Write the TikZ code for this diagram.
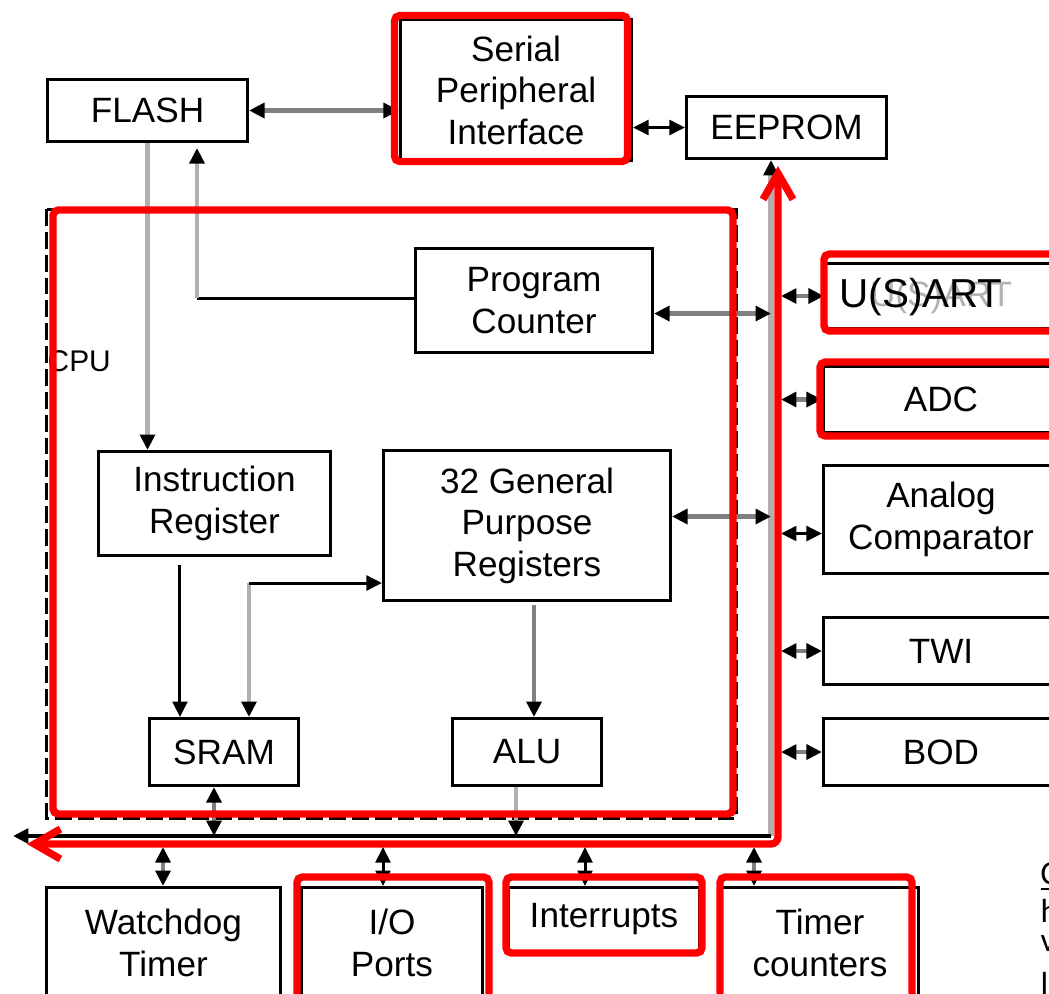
\documentclass[tikz,border=0pt]{standalone}
\usepackage{fontspec}
\setmainfont{Liberation Sans}
\newfontfamily\notefont{Carlito}
\usetikzlibrary{arrows.meta}
\definecolor{busgray}{HTML}{B0B0B0}
\definecolor{linegray}{HTML}{808080}
\definecolor{hlred}{HTML}{FF0000}
\tikzset{
  blk/.style={draw,line width=0.85pt,align=center,inner sep=0pt,font=\fontsize{10}{11.8}\selectfont},
  conn/.style={line width=1.2pt,linegray,>={Triangle[length=4.4pt,width=4.2pt,color=black]}},
  lconn/.style={conn,busgray},
  kconn/.style={conn,black,line width=0.85pt},
  redbox/.style={draw=hlred,line width=2.1pt,rounded corners=1.5pt},
  redarrow/.style={hlred,line width=2.1pt,line cap=round,line join=round,rounded corners=2pt},
}
\begin{document}
\begin{tikzpicture}[x=0.01cm,y=-0.01cm]
\useasboundingbox (0,0) rectangle (1049,993);
\clip (0,0) rectangle (1049,993);
% memories and spi
\node[blk,minimum width=2cm,minimum height=0.62cm] (flash) at (147.5,110.5) {FLASH};
\node[blk,minimum width=2.31cm,minimum height=1.41cm] (spi) at (516,90) {Serial\\Peripheral\\Interface};
\node[blk,minimum width=2cm,minimum height=0.62cm] (eeprom) at (786.5,127.5) {EEPROM};
% cpu core
\draw[line width=0.85pt,dash pattern=on 4.8pt off 1.7pt] (46.5,209) rectangle (736,818);
\node[font=\fontsize{8.5}{10}\selectfont,anchor=west,inner sep=0pt] (cpu) at (47,361) {CPU};
\node[blk,minimum width=2.37cm,minimum height=1.04cm] (pc) at (534,300.5) {Program\\Counter};
\node[blk,minimum width=2.32cm,minimum height=1.04cm] (ir) at (214.5,503.5) {Instruction\\Register};
\node[blk,minimum width=2.87cm,minimum height=1.5cm] (gpr) at (527,525.5) {32 General\\Purpose\\Registers};
\node[blk,minimum width=1.49cm,minimum height=0.67cm] (sram) at (224,752) {SRAM};
\node[blk,minimum width=1.49cm,minimum height=0.67cm] (alu) at (527,752) {ALU};
% peripherals on the right
\node[blk,minimum width=2.33cm,minimum height=0.65cm] (usart) at (942,296) {};
\node[font=\fontsize{10}{12}\selectfont,text=gray!60] at (941,297) {U(S)ART};
\node[font=\fontsize{11.5}{13}\selectfont] (usartlbl) at (921,297) {U(S)ART};
\node[blk,minimum width=2.35cm,minimum height=0.66cm] (adc) at (941,399.5) {ADC};
\node[blk,minimum width=2.35cm,minimum height=1.08cm] (acomp) at (941,519.5) {Analog\\Comparator};
\node[blk,minimum width=2.35cm,minimum height=0.67cm] (twi) at (941,651) {TWI};
\node[blk,minimum width=2.35cm,minimum height=0.67cm] (bod) at (941,752) {BOD};
% peripherals below
\node[blk,minimum width=2.34cm,minimum height=1.11cm] (wdt) at (163.5,943) {Watchdog\\Timer};
\node[blk,minimum width=1.81cm,minimum height=1.11cm] (io) at (392,943) {I/O\\Ports};
\node[blk,minimum width=1.91cm,minimum height=0.64cm] (irq) at (604,919.5) {\raisebox{-2pt}{Interrupts}};
\node[blk,minimum width=1.97cm,minimum height=1.11cm] (tmr) at (820,943) {Timer\\counters};
% bus
\coordinate (busL) at (13,836);
\coordinate (busR) at (771,836);
\coordinate (tapR) at (781,836);
\coordinate (pcbend) at (197,298);
\coordinate (sgbend) at (249,583);
\coordinate (tapwdt) at (163,847);
\coordinate (tapio) at (383,847);
\coordinate (tapirq) at (585,847);
\coordinate (taptmr) at (754,847);
\draw[lconn,line width=1.7pt,->] (busR) -- (busR |- eeprom.south);
\draw[kconn,line width=1.1pt,->] (busR) -- (busL);
% connectors
\draw[conn,line width=1.4pt,<->] (flash.east) -- (flash.east -| spi.west);
\draw[kconn,<->] (spi.east |- eeprom.west) -- (eeprom.west);
\draw[lconn,->] (flash.south) -- (flash.south |- ir.north);
\draw[kconn] (pc.west |- pcbend) -- (pcbend);
\draw[lconn,->,shorten >=0.05cm] (pcbend) -- (pcbend |- flash.south);
\draw[conn,<->] ([yshift=-0.13cm]pc.east) -- ([yshift=-0.13cm]pc.east -| busR);
\draw[conn,<->] ([yshift=0.09cm]gpr.east) -- ([yshift=0.09cm]gpr.east -| busR);
\draw[kconn,->] ([xshift=-0.345cm,yshift=-0.08cm]ir.south) -- ([xshift=-0.345cm]ir.south |- sram.north);
\draw[lconn,->] (sgbend) -- (sgbend |- sram.north);
\draw[kconn,->] (sgbend) -- (sgbend -| gpr.west);
\draw[conn,->] ([xshift=0.07cm,yshift=-0.03cm]gpr.south) -- ([xshift=0.07cm]gpr.south |- alu.north);
\draw[conn,<->] ([xshift=-0.1cm]sram.south) -- ([xshift=-0.1cm]sram.south |- busL);
\draw[lconn,->] ([xshift=-0.11cm]alu.south) -- ([xshift=-0.11cm]alu.south |- busL);
\draw[conn,<->] (tapR |- usart.west) -- (usart.west);
\draw[conn,<->] (tapR |- adc.west) -- (adc.west);
\draw[kconn,<->] ([yshift=-0.14cm]acomp.west -| tapR) -- ([yshift=-0.14cm]acomp.west);
\draw[conn,<->] (tapR |- twi.west) -- (twi.west);
\draw[conn,<->] (tapR |- bod.west) -- (bod.west);
\draw[conn,<->] (tapwdt) -- (tapwdt |- wdt.north);
\draw[kconn,<->] (tapio) -- (tapio |- io.north);
\draw[kconn,<->] (tapirq) -- (tapirq |- irq.north);
\draw[conn,<->] (taptmr) -- (taptmr |- tmr.north);
% red highlights
\draw[redbox] (394.5,15.5) rectangle (627.5,161.5);
\draw[redbox] (53,210) rectangle (733,814);
\draw[redbox] (824,254) rectangle (1070,331);
\draw[redbox] (820,362) rectangle (1070,436);
\draw[redbox] (297,877) rectangle (489,1010);
\draw[redbox] (506,877) rectangle (702,953);
\draw[redbox] (720,877) rectangle (912,1010);
\draw[redarrow,{Straight Barb[length=0.26cm,width=0.3cm]}-{Straight Barb[length=0.26cm,width=0.3cm]}] (27,844) -- (778,844) -- (778,166);
% cut off page text
\node[font=\notefont\fontsize{9.5}{11}\selectfont,anchor=base west,inner sep=0pt] (noteC) at (1040,884) {\underline{C}};
\node[font=\notefont\fontsize{9.5}{11}\selectfont,anchor=base west,inner sep=0pt] (noteh) at (1040,922) {h};
\node[font=\notefont\fontsize{9.5}{11}\selectfont,anchor=base west,inner sep=0pt] (notev) at (1040,951) {v};
\node[font=\notefont\fontsize{9.5}{11}\selectfont,anchor=base west,inner sep=0pt] (notel) at (1040,995) {l};
\end{tikzpicture}
\end{document}
